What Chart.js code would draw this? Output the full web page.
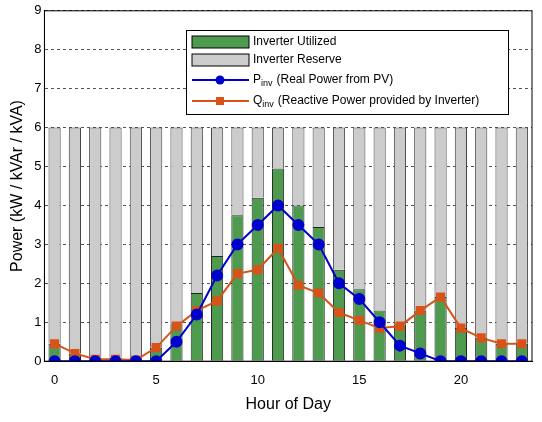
<!DOCTYPE html><html><head><script src="https://cdn.jsdelivr.net/npm/chart.js@4"></script>
<style>body{margin:0;background:#fff}#w{width:542px;height:422px}</style></head><body><div id="w"><canvas id="c"></canvas></div>
<script>
const hours=[...Array(24).keys()];
const pInv=[0,0,0,0,0,0,0.5,1.2,2.2,3.0,3.5,4.0,3.5,3.0,2.0,1.6,1.0,0.4,0.2,0,0,0,0,0];
const qInv=[0.45,0.2,0.05,0.05,0.03,0.35,0.9,1.3,1.55,2.25,2.35,2.9,1.95,1.75,1.25,1.05,0.85,0.9,1.3,1.65,0.85,0.6,0.45,0.45];
const utilized=[0.45,0.2,0.05,0.05,0.03,0.35,0.95,1.75,2.7,3.75,4.2,4.95,4.0,3.45,2.35,1.85,1.3,0.95,1.3,1.65,0.85,0.6,0.45,0.45];
const capacity=6;
const reserve=utilized.map(u=>capacity-u);
const F='Liberation Sans, Arial, sans-serif';
const legendPlugin={id:'lg',afterDraw(ch){const c=ch.ctx,a=ch.chartArea;c.save();
c.strokeStyle='#000';c.lineWidth=1;c.strokeRect(a.left,a.top,a.right-a.left,a.bottom-a.top);
const x=186,y=30,w=322,h=84;c.fillStyle='#fff';c.fillRect(x,y,w,h);c.strokeRect(x+.5,y+.5,w,h);
const rows=[42,60,80,101];
c.fillStyle='#4e9a4e';c.fillRect(x+6,rows[0]-6,57,12);c.strokeRect(x+6,rows[0]-6,57,12);
c.fillStyle='#cccccc';c.fillRect(x+6,rows[1]-6,57,12);c.strokeRect(x+6,rows[1]-6,57,12);
const ln=(yy,col,sq)=>{c.strokeStyle=col;c.lineWidth=2;c.beginPath();c.moveTo(x+6,yy);c.lineTo(x+63,yy);c.stroke();c.fillStyle=col;
if(sq)c.fillRect(x+30,yy-4,8,8);else{c.beginPath();c.arc(x+34,yy,4.5,0,7);c.fill();}};
ln(rows[2],'#0000cc',false);ln(rows[3],'#d95319',true);
c.fillStyle='#000';c.textBaseline='middle';c.font='12px '+F;
c.fillText('Inverter Utilized',x+67,rows[0]);c.fillText('Inverter Reserve',x+67,rows[1]);
const sub=(yy,main,s,rest)=>{let xx=x+67;c.font='12px '+F;c.fillText(main,xx,yy);xx+=c.measureText(main).width;
c.font='9px '+F;c.fillText(s,xx,yy+4);xx+=c.measureText(s).width+4;c.font='12px '+F;c.fillText(rest,xx,yy);};
sub(rows[2],'P','inv','(Real Power from PV)');sub(rows[3],'Q','inv','(Reactive Power provided by Inverter)');
c.restore();}};
new Chart(document.getElementById('c'),{data:{labels:hours,datasets:[
{type:'line',data:pInv,stack:'p',borderColor:'#0000cc',backgroundColor:'#0000cc',borderWidth:2,pointRadius:5,pointStyle:'circle',order:0},
{type:'line',data:qInv,stack:'q',borderColor:'#d95319',backgroundColor:'#d95319',borderWidth:2,pointRadius:5,pointStyle:'rect',order:1},
{type:'bar',data:utilized,backgroundColor:'#4e9a4e',borderColor:'#222',borderWidth:1,stack:'s',order:2,categoryPercentage:1,barPercentage:0.6},
{type:'bar',data:reserve,backgroundColor:'#cccccc',borderColor:'#444',borderWidth:1,stack:'s',order:3,categoryPercentage:1,barPercentage:0.6}
]},options:{responsive:true,maintainAspectRatio:false,animation:false,
layout:{padding:{top:10,right:10,left:4,bottom:4}},
plugins:{legend:{display:false},tooltip:{enabled:false}},
scales:{x:{stacked:true,grid:{display:false},border:{color:'#000'},ticks:{color:'#000',font:{family:F,size:13},maxRotation:0,autoSkip:false,callback:(v,i)=>i%5===0?String(i):''},
title:{display:true,text:'Hour of Day',color:'#000',font:{family:F,size:16}}},
y:{stacked:true,min:0,max:9,grid:{color:'#555',tickLength:0},border:{dash:[3,3],color:'#000'},ticks:{stepSize:1,color:'#000',font:{family:F,size:13}},
title:{display:true,text:'Power (kW / kVAr / kVA)',color:'#000',font:{family:F,size:16}}}}},
plugins:[legendPlugin]});
</script></body></html>
